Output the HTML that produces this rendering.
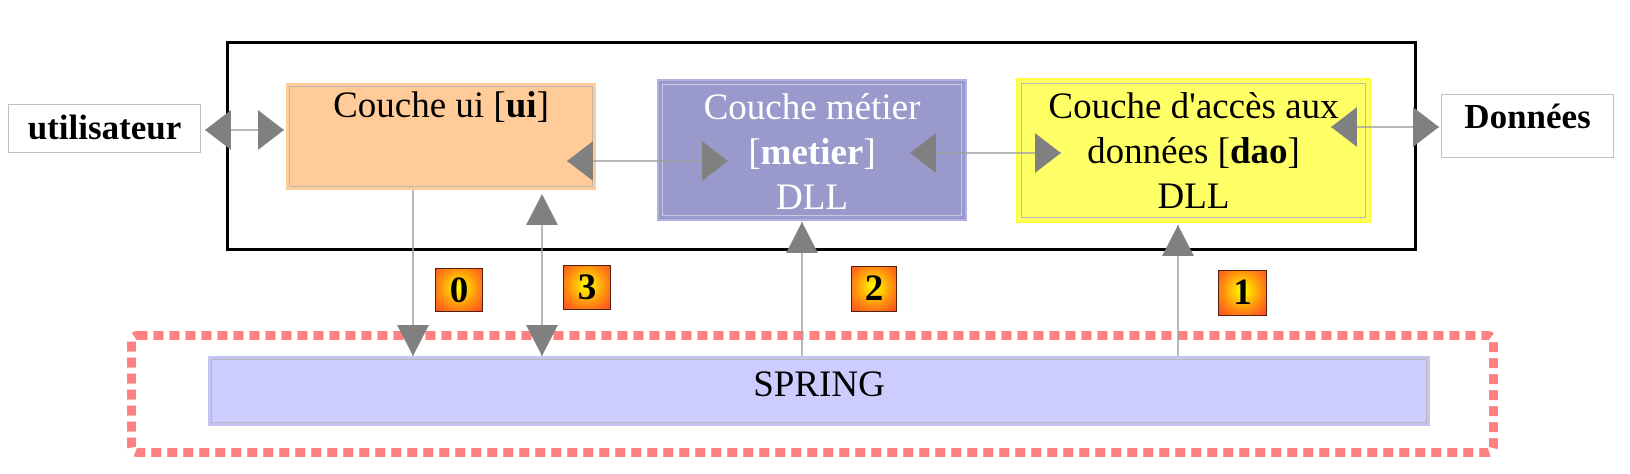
<!DOCTYPE html>
<html><head><meta charset="utf-8"><style>
body{margin:0;width:1630px;height:474px;background:#fff;position:relative;overflow:hidden;font-family:"Liberation Serif",serif}
.a{position:absolute;box-sizing:border-box}
.box{display:flex;flex-direction:column;align-items:center;text-align:center;font-size:37px;line-height:45px;white-space:nowrap}
.in{position:absolute;left:3px;top:3px;right:3px;bottom:3px;border:1px solid #b8b8b8}
.badge{position:absolute;box-sizing:border-box;border:1.5px solid #502010;background:radial-gradient(circle at 50% 45%,#ffff00 0%,#ffd000 25%,#ff8a10 60%,#ff4a20 100%);font-weight:bold;font-size:37px;text-align:center;line-height:44px}
</style></head><body>
<div class="a" style="left:226px;top:41px;width:1191px;height:210px;border:3px solid #000"></div>
<div class="a" style="left:8px;top:104px;width:193px;height:49px;border:1px solid #c0c0c0;font-weight:bold;font-size:35px;text-align:center;line-height:46px">utilisateur</div>
<div class="a" style="left:1441px;top:94px;width:173px;height:64px;border:1px solid #c0c0c0;font-weight:bold;font-size:35px;text-align:center;line-height:44px">Données</div>
<div class="a box" style="left:286px;top:83px;width:310px;height:107px;background:#ffcc99;padding-top:0px"><div class="in"></div><span>Couche ui [<b>ui</b>]</span></div>
<div class="a box" style="left:657px;top:79px;width:310px;height:142px;background:#9999cc;color:#fff;padding-top:4px;border:2px solid #b0b0e0"><div class="in" style="border-color:#c8c8e0"></div><span>Couche métier</span><span>[<b>metier</b>]</span><span>DLL</span></div>
<div class="a box" style="left:1016px;top:78px;width:355px;height:145px;background:#ffff66;padding-top:4px;border:2px solid #ffff40"><div class="in"></div><span>Couche d'accès aux</span><span>données [<b>dao</b>]</span><span>DLL</span></div>
<svg class="a" style="left:0;top:0" width="1630" height="474">
<rect x="131.5" y="335.5" width="1362" height="117" rx="6" fill="none" stroke="#ff8080" stroke-width="9" stroke-dasharray="10 6"/>
</svg>
<div class="a" style="left:208px;top:356px;width:1222px;height:70px;background:#ccccff;border:3px solid #c4c4f4"><div style="position:absolute;left:0;top:0;right:0;bottom:0;border:1px solid #b8b8b8;text-align:center;font-size:37px;line-height:50px">SPRING</div></div>
<div class="badge" style="left:435px;top:268px;width:48px;height:44px">0</div>
<div class="badge" style="left:563px;top:265px;width:48px;height:45px">3</div>
<div class="badge" style="left:851px;top:266px;width:46px;height:46px">2</div>
<div class="badge" style="left:1218px;top:270px;width:49px;height:46px">1</div>
<svg class="a" style="left:0;top:0" width="1630" height="474">
<g stroke="#a0a0a0" stroke-width="1.5">
<line x1="205" y1="130" x2="284" y2="130"/>
<line x1="567" y1="161" x2="728" y2="161"/>
<line x1="910" y1="153" x2="1061" y2="153"/>
<line x1="1331" y1="127" x2="1439" y2="127"/>
<line x1="413" y1="190" x2="413" y2="356"/>
<line x1="542" y1="198" x2="542" y2="356"/>
<line x1="802" y1="222" x2="802" y2="356"/>
<line x1="1178" y1="225" x2="1178" y2="356"/>
</g>
<g fill="#808080">
<polygon points="205,130 231,110 231,150"/>
<polygon points="284,130 258,110 258,150"/>
<polygon points="567,161 593,141 593,181"/>
<polygon points="728,161 702,141 702,181"/>
<polygon points="910,153 936,133 936,173"/>
<polygon points="1061,153 1035,133 1035,173"/>
<polygon points="1331,127 1357,107 1357,147"/>
<polygon points="1439,127 1413,107 1413,147"/>
<polygon points="413,356 397,325 429,325"/>
<polygon points="542,356 526,325 558,325"/>
<polygon points="542,194 526,225 558,225"/>
<polygon points="802,222 786,253 818,253"/>
<polygon points="1178,225 1162,256 1194,256"/>
</g>
</svg>
</body></html>
